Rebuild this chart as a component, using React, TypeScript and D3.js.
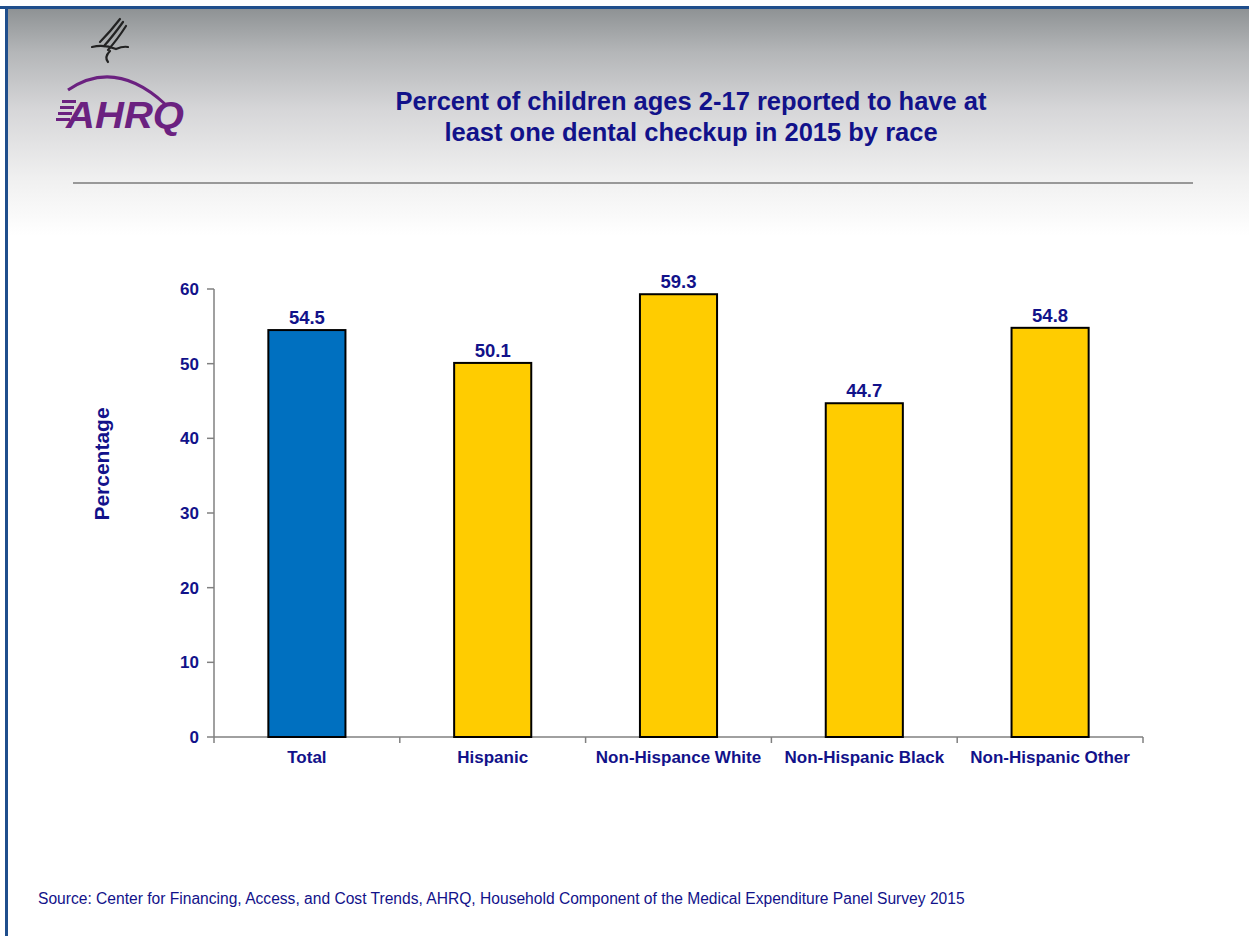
import React from "react";
import * as d3 from "d3";

const categories = ["Total", "Hispanic", "Non-Hispance White", "Non-Hispanic Black", "Non-Hispanic Other"];
const values = [54.5, 50.1, 59.3, 44.7, 54.8];
const barColors = ["#0070c0", "#ffcc00", "#ffcc00", "#ffcc00", "#ffcc00"];
const yTicks = [0, 10, 20, 30, 40, 50, 60];
const titleLines = ["Percent of children ages 2-17 reported to have at", "least one dental checkup in 2015 by race"];
const sourceText = "Source: Center for Financing, Access, and Cost Trends, AHRQ, Household Component of the Medical Expenditure Panel Survey 2015";

const W = 1249, H = 936;
const plot = { left: 214, right: 1143, top: 289, bottom: 737 };
const navy = "#12128a";

export default function App() {
  const x = d3.scaleBand<string>().domain(categories).range([plot.left, plot.right]).paddingInner(0.585).paddingOuter(0.2925);
  const y = d3.scaleLinear().domain([0, 60]).range([plot.bottom, plot.top]);
  const step = (plot.right - plot.left) / categories.length;
  const boundaries = d3.range(categories.length + 1).map((i) => plot.left + i * step);
  const font = "Arial, 'Liberation Sans', Helvetica, sans-serif";
  const arc = d3.path();
  arc.moveTo(68, 90);
  arc.quadraticCurveTo(115, 58, 165, 104);

  return (
    <svg width={W} height={H} style={{ position: "absolute", left: 0, top: 0 }} fontFamily={font}>
      <defs>
        <linearGradient id="bg" x1="0" y1="0" x2="0" y2="1">
          <stop offset="0" stopColor="#8c9092" />
          <stop offset="0.2" stopColor="#b4b6b8" />
          <stop offset="0.45" stopColor="#d6d6d8" />
          <stop offset="0.75" stopColor="#f0f0f0" />
          <stop offset="1" stopColor="#ffffff" />
        </linearGradient>
      </defs>
      <rect x={0} y={0} width={W} height={H} fill="#ffffff" />
      <rect x={6} y={6} width={W - 6} height={230} fill="url(#bg)" />
      <rect x={0} y={6} width={W} height={3} fill="#1f4e8c" />
      <rect x={5} y={6} width={3} height={H - 6} fill="#1f4e8c" />

      {/* logo */}
      <g stroke="#222" strokeWidth={2.2} fill="none" strokeLinecap="round">
        <path d="M120 19 Q110 32 100 42" />
        <path d="M123 22 Q113 36 104 46" />
        <path d="M126 26 Q117 40 108 50" />
        <path d="M92 47 Q104 44 116 49 Q123 46 128 47" />
        <path d="M110 51 Q104 57 108 62" />
      </g>
      <path d={arc.toString()} stroke="#6b2180" strokeWidth={3} fill="none" />
      <g fill="#6b2180">
        <rect x={62} y={100} width={14} height={3} />
        <rect x={60} y={106} width={14} height={3} />
        <rect x={58} y={112} width={14} height={3} />
        <rect x={56} y={118} width={14} height={3} />
      </g>
      <text x={66} y={128} fontSize={36} fontWeight="900" fontStyle="italic" fill="#6b2180" textLength={118} lengthAdjust="spacingAndGlyphs">AHRQ</text>

      {titleLines.map((t, i) => (
        <text key={i} x={691} y={110 + i * 31} textAnchor="middle" fontSize={25.5} fontWeight="bold" fill={navy}>{t}</text>
      ))}
      <line x1={73} x2={1193} y1={183} y2={183} stroke="#7a7a7a" strokeWidth={1.5} />

      {/* axes */}
      <line x1={plot.left} x2={plot.left} y1={plot.top} y2={plot.bottom} stroke="#808080" strokeWidth={1.5} />
      <line x1={plot.left} x2={plot.right} y1={plot.bottom} y2={plot.bottom} stroke="#808080" strokeWidth={1.5} />
      {yTicks.map((t) => (
        <g key={t}>
          <line x1={plot.left - 7} x2={plot.left} y1={y(t)} y2={y(t)} stroke="#808080" strokeWidth={1.5} />
          <text x={199} y={y(t) + 6} textAnchor="end" fontSize={17} fontWeight="bold" fill={navy}>{t}</text>
        </g>
      ))}
      {boundaries.map((b, i) => (
        <line key={i} x1={b} x2={b} y1={plot.bottom} y2={plot.bottom + 6} stroke="#808080" strokeWidth={1.5} />
      ))}
      <text transform={`translate(109,464) rotate(-90)`} textAnchor="middle" fontSize={21} fontWeight="bold" fill={navy}>Percentage</text>

      {categories.map((c, i) => (
        <g key={c}>
          <rect x={x(c)} y={y(values[i])} width={x.bandwidth()} height={plot.bottom - y(values[i])} fill={barColors[i]} stroke="#000" strokeWidth={2} />
          <text x={x(c)! + x.bandwidth() / 2} y={y(values[i]) - 6} textAnchor="middle" fontSize={18.5} fontWeight="bold" fill={navy}>{values[i].toFixed(1)}</text>
          <text x={x(c)! + x.bandwidth() / 2} y={763} textAnchor="middle" fontSize={17} fontWeight="bold" fill={navy}>{c}</text>
        </g>
      ))}

      <text x={38} y={904} fontSize={15.6} fill={navy}>{sourceText}</text>
    </svg>
  );
}
